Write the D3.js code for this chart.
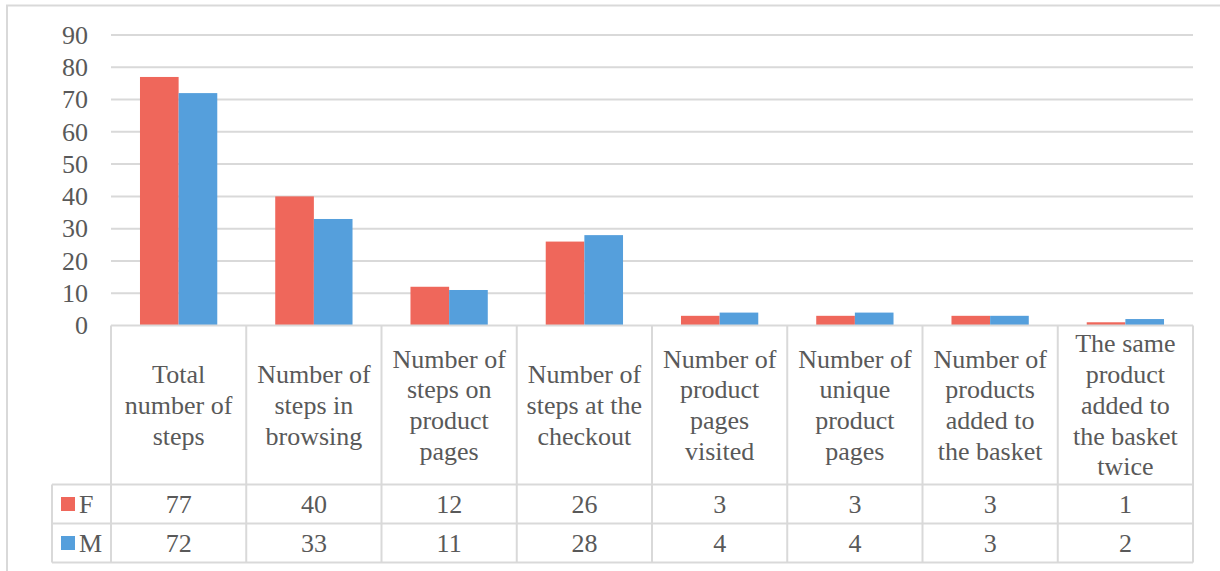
<!DOCTYPE html>
<html>
<head>
<meta charset="utf-8">
<script src="https://cdn.jsdelivr.net/npm/d3@7"></script>
<style>
  body { margin: 0; background: #fff; }
  svg { display: block; }
  svg text { font-family: 'Liberation Serif', Tinos, 'Times New Roman', Times, 'DejaVu Serif', serif; }
</style>
</head>
<body>
<svg id="chart" width="1220" height="571"></svg>
<script>
// data
const categories = [
  ["Total", "number of", "steps"],
  ["Number of", "steps in", "browsing"],
  ["Number of", "steps on", "product", "pages"],
  ["Number of", "steps at the", "checkout"],
  ["Number of", "product", "pages", "visited"],
  ["Number of", "unique", "product", "pages"],
  ["Number of", "products", "added to", "the basket"],
  ["The same", "product", "added to", "the basket", "twice"]
];
const seriesNames = ["F", "M"];
const valuesF = [77, 40, 12, 26, 3, 3, 3, 1];
const valuesM = [72, 33, 11, 28, 4, 4, 3, 2];
const yTicks = [0, 10, 20, 30, 40, 50, 60, 70, 80, 90];

const colors = { F: "#EF675B", M: "#559FDC" };
const textColor = "#595959";
const lineColor = "#D9D9D9";

const svg = d3.select("#chart");
const plotLeft = 111, plotRight = 1193, plotTop = 35, plotBottom = 325.5;
const headerBottom = 484.5, rowH = 39;
const legendLeft = 52;

// outer chart border (runs off the picture at right/bottom)
svg.append("rect")
  .attr("x", 7).attr("y", 5.5)
  .attr("width", 1240).attr("height", 620)
  .attr("fill", "none").attr("stroke", lineColor).attr("stroke-width", 2);

const x0 = d3.scaleBand().domain(d3.range(categories.length)).range([plotLeft, plotRight]).padding(0);
const x1 = d3.scaleBand().domain(seriesNames).range([0, x0.bandwidth()]).paddingInner(0).paddingOuter(0.75);
const y = d3.scaleLinear().domain([0, 90]).range([plotBottom, plotTop]);

// gridlines
svg.append("g").selectAll("line")
  .data(yTicks.filter(d => d > 0))
  .join("line")
  .attr("x1", plotLeft).attr("x2", plotRight)
  .attr("y1", d => y(d)).attr("y2", d => y(d))
  .attr("stroke", lineColor).attr("stroke-width", 2);

// y axis labels
const yAxis = d3.axisLeft(y).tickValues(yTicks).tickSize(0).tickPadding(23);
const gy = svg.append("g").attr("transform", `translate(${plotLeft},0)`).call(yAxis);
gy.select(".domain").remove();
gy.attr("font-family", null);
gy.selectAll("text")
  .attr("font-size", 26)
  .attr("fill", textColor);

// bars
const seriesData = seriesNames.map(s => ({ name: s, values: s === "F" ? valuesF : valuesM }));
seriesData.forEach(s => {
  svg.append("g").selectAll("rect")
    .data(s.values)
    .join("rect")
    .attr("x", (d, i) => x0(i) + x1(s.name))
    .attr("width", x1.bandwidth())
    .attr("y", d => y(d))
    .attr("height", d => y(0) - y(d))
    .attr("fill", colors[s.name]);
});

// data table
const table = svg.append("g");
const tableBottom = headerBottom + rowH * 2;

// horizontal lines
table.append("line").attr("x1", plotLeft).attr("x2", plotRight).attr("y1", plotBottom).attr("y2", plotBottom);
[headerBottom, headerBottom + rowH, tableBottom].forEach(yy => {
  table.append("line").attr("x1", legendLeft).attr("x2", plotRight).attr("y1", yy).attr("y2", yy);
});
// vertical lines
table.append("line").attr("x1", legendLeft).attr("x2", legendLeft).attr("y1", headerBottom).attr("y2", tableBottom);
d3.range(categories.length + 1).forEach(i => {
  const xx = i < categories.length ? x0(i) : plotRight;
  table.append("line").attr("x1", xx).attr("x2", xx).attr("y1", plotBottom).attr("y2", tableBottom);
});
table.selectAll("line").attr("stroke", lineColor).attr("stroke-width", 2);

// category labels in header
const lineH = 30.8;
categories.forEach((lines, i) => {
  const cx = x0(i) + x0.bandwidth() / 2;
  const cy = (plotBottom + headerBottom) / 2;
  const t = table.append("text")
    .attr("text-anchor", "middle")
    .attr("font-size", 26)
    .attr("fill", textColor);
  lines.forEach((ln, j) => {
    t.append("tspan")
      .attr("x", cx)
      .attr("y", cy + (j - (lines.length - 1) / 2) * lineH)
      .attr("dy", "0.34em")
      .text(ln);
  });
});

// value rows + legend keys
seriesData.forEach((s, r) => {
  const cy = headerBottom + rowH * r + rowH / 2;
  table.append("rect")
    .attr("x", 61).attr("y", cy - 7).attr("width", 14).attr("height", 14)
    .attr("fill", colors[s.name]);
  table.append("text")
    .attr("x", 79).attr("y", cy).attr("dy", "0.34em")
    .attr("font-size", 26).attr("fill", textColor)
    .text(s.name);
  table.append("g").selectAll("text")
    .data(s.values)
    .join("text")
    .attr("x", (d, i) => x0(i) + x0.bandwidth() / 2)
    .attr("y", cy).attr("dy", "0.34em")
    .attr("text-anchor", "middle")
    .attr("font-size", 26).attr("fill", textColor)
    .text(d => d);
});
</script>
</body>
</html>
